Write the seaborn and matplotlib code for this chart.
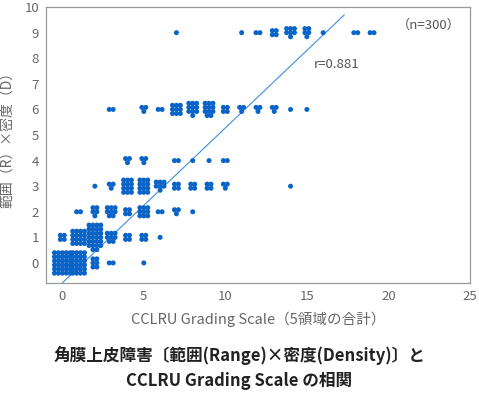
import math
import numpy as np
import pandas as pd
import matplotlib
matplotlib.use("Agg")
import matplotlib.pyplot as plt
import seaborn as sns

# CCLRU grade (x), R x D score (y), number of eyes at that pair
grade_x = [0, 1, 2, 3, 5,
           0, 1, 2, 3, 4, 5, 6,
           1, 2, 3, 4, 5, 6, 7, 8,
           2, 3, 4, 5, 6, 7, 8, 9, 10, 14,
           4, 5, 7, 8, 9, 10,
           3, 5, 6, 7, 8, 9, 10, 11, 12, 13, 14, 15,
           7, 11, 12, 13, 14, 15, 16, 18, 19]
score_y = [0, 0, 0, 0, 0,
           1, 1, 1, 1, 1, 1, 1,
           2, 2, 2, 2, 2, 2, 2, 2,
           3, 3, 3, 3, 3, 3, 3, 3, 3, 3,
           4, 4, 4, 4, 4, 4,
           6, 6, 6, 6, 6, 6, 6, 6, 6, 6, 6, 6,
           9, 9, 9, 9, 9, 9, 9, 9, 9]
counts = [30, 24, 6, 2, 1,
          4, 16, 26, 8, 4, 4, 1,
          2, 5, 8, 4, 9, 2, 3, 1,
          1, 3, 12, 12, 7, 4, 4, 4, 3, 1,
          3, 3, 2, 1, 1, 2,
          2, 3, 2, 9, 10, 11, 4, 3, 3, 3, 1, 1,
          1, 1, 2, 4, 7, 5, 1, 2, 2]

# regression line
line_x = [0, 17.3]
line_y = [-0.78, 9.7]

n_label = "（n=300）"
r_label = "r=0.881"

# spread tied values into small dot clusters
dx, dy = 0.24, 0.16
px, py = [], []
for x, y, n in zip(grade_x, score_y, counts):
    cols = max(1, math.ceil(math.sqrt(n * 0.6)))
    if n == 2:
        cols = 2
    rows = math.ceil(n / cols)
    k = 0
    for r in range(rows):
        in_row = min(cols, n - k)
        for c in range(in_row):
            px.append(x + (c - (in_row - 1) / 2) * dx)
            py.append(y + ((rows - 1) / 2 - r) * dy)
            k += 1
df = pd.DataFrame({"x": px, "y": py})

sns.set_style("white")
plt.rcParams["font.family"] = ["Noto Sans CJK JP", "DejaVu Sans"]

fig = plt.figure(figsize=(4.79, 3.94), dpi=100)
ax = fig.add_axes([0.096, 0.282, 0.885, 0.700])

sns.scatterplot(data=df, x="x", y="y", ax=ax, color="#0a64c8", s=13,
                edgecolor="none", linewidth=0, zorder=3)
sns.lineplot(x=line_x, y=line_y, ax=ax, color="#3f8fe0", linewidth=0.8, zorder=2)

ax.set_xlim(-1, 25)
ax.set_ylim(-0.78, 10)
ax.set_xticks(range(0, 26, 5))
ax.set_yticks(range(0, 11))
ax.tick_params(direction="in", length=6, width=0.8, color="#999999",
               labelcolor="#666666", labelsize=9.5, pad=5)
for s in ax.spines.values():
    s.set_color("#999999")
    s.set_linewidth(0.9)

ax.set_xlabel("CCLRU Grading Scale（5領域の合計）", fontsize=10.5, color="#666666", labelpad=6)
ax.set_ylabel("範囲（R）×密度（D）", fontsize=10, color="#666666")
ax.yaxis.set_label_coords(-0.075, 0.53)

ax.text(22.5, 9.3, n_label, fontsize=9.5, color="#555555", ha="center", va="center")
ax.text(15.4, 7.77, r_label, fontsize=9.5, color="#555555", ha="left", va="center")

fig.text(0.5, 1 - 356 / 394, "角膜上皮障害〔範囲(Range)×密度(Density)〕と",
         ha="center", va="center", fontsize=12, fontweight="bold", color="#222222")
fig.text(0.5, 1 - 381 / 394, "CCLRU Grading Scale の相関",
         ha="center", va="center", fontsize=12, fontweight="bold", color="#222222")

fig.savefig("out.png", dpi=100)
